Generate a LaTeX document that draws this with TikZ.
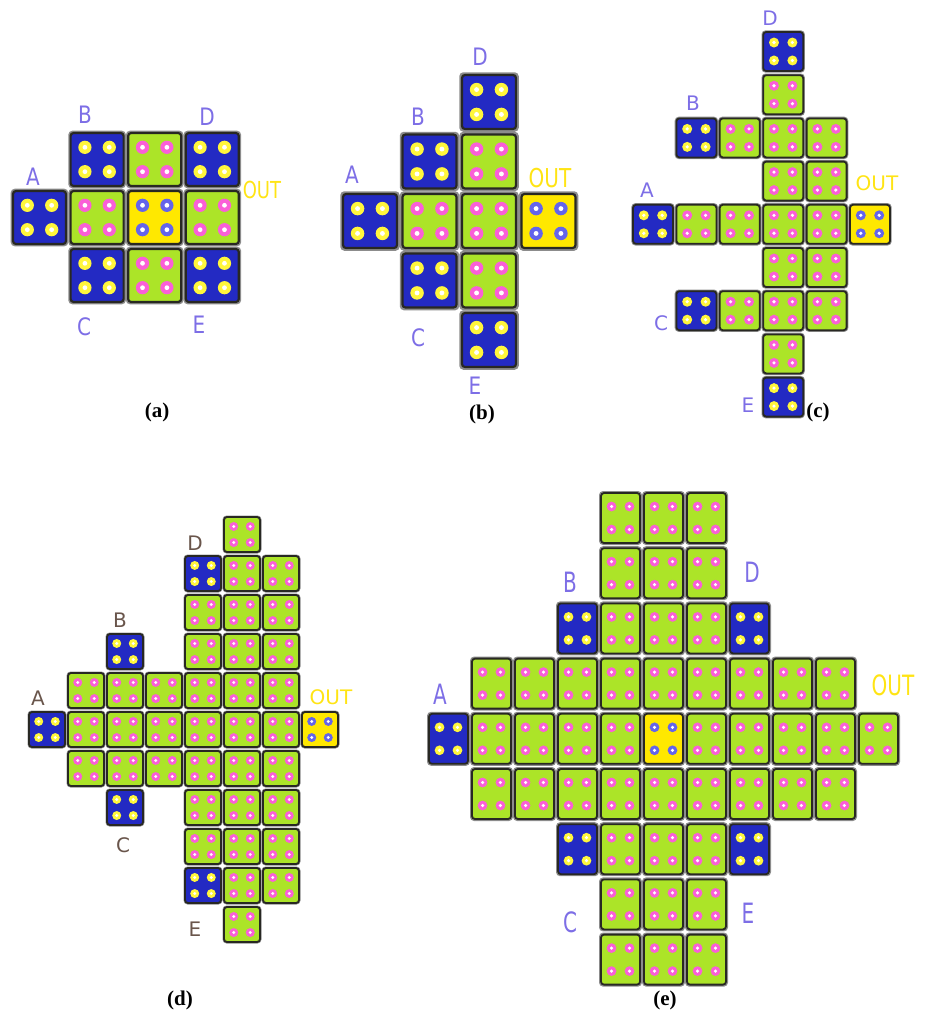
\documentclass[tikz,border=0pt]{standalone}
\usepackage{graphicx}
\usepackage{fontspec}
\setmainfont{Liberation Serif}
\newfontfamily\labelfont{DejaVu Sans}
\usepackage{tikz}
\definecolor{cellBlue}{RGB}{35, 42, 195}
\definecolor{cellGreen}{RGB}{172, 228, 40}
\definecolor{cellYellow}{RGB}{255, 232, 0}
\definecolor{dotBlue}{RGB}{255, 246, 60}
\definecolor{dotGreen}{RGB}{250, 95, 215}
\definecolor{dotYellow}{RGB}{100, 100, 235}
\definecolor{gapGrey}{RGB}{140, 140, 140}
\definecolor{edgeDark}{RGB}{40, 40, 35}
\definecolor{labelBlue}{RGB}{125, 110, 230}
\definecolor{labelBrown}{RGB}{105, 85, 75}
\definecolor{outYellow}{RGB}{255, 228, 20}

% one cell of the array: column, row, kind (Blue/Green/Yellow)
\newcommand{\tile}[3]{%
  \pgfmathsetmacro{\tx}{\ox+#1*\dx}%
  \pgfmathsetmacro{\ty}{\oy+#2*\dy}%
  \pgfmathsetmacro{\hw}{(\dx-\cw)/2}%
  \fill[gapGrey, rounded corners=2pt] (\tx-\hw,\ty-\hw) rectangle ++(\cw+2*\hw,\ch+2*\hw);
  \draw[edgeDark, line width=\bw, fill=cell#3, rounded corners=1.5pt] (\tx,\ty) rectangle ++(\cw,\ch);
  \foreach \u in {0.27,0.73}
    \foreach \v in {0.27,0.73} {
      \fill[dot#3] (\tx+\u*\cw,\ty+\v*\ch) circle (0.125*\cw);
      \fill[white] (\tx+\u*\cw,\ty+\v*\ch) circle (0.045*\cw);
    }%
}

\tikzset{
  lbl/.style={font=\labelfont, text=labelBlue, inner sep=0pt},
  lbldark/.style={lbl, text=labelBrown},
  outlbl/.style={lbl, text=outYellow},
  caption/.style={font=\fontsize{10.5}{12}\selectfont\bfseries, inner sep=0pt}
}

\begin{document}
\begin{tikzpicture}[x=0.5pt, y=-0.5pt]
  \useasboundingbox (0,0) rectangle (926,1024);

  % (a)
  \def\ox{13}\def\oy{133}\def\dx{57.6}\def\dy{58}\def\cw{53}\def\ch{53}\def\bw{1.1pt}
  \foreach \c/\r/\k in {0/1/Blue, 1/0/Blue, 2/0/Green, 3/0/Blue, 1/1/Green, 2/1/Yellow,
      3/1/Green, 1/2/Blue, 2/2/Green, 3/2/Blue}
    \tile{\c}{\r}{\k};
  \begin{scope}[every node/.append style={font=\labelfont\fontsize{12.5}{12}\selectfont}]
    \node[lbl] (aA) at (33,177) {\scalebox{1}[1.2]{A}};
    \node[lbl] (aB) at (85,115) {\scalebox{1}[1.2]{B}};
    \node[lbl] (aD) at (207,117) {\scalebox{1}[1.2]{D}};
    \node[lbl] (aC) at (84,327) {\scalebox{1}[1.2]{C}};
    \node[lbl] (aE) at (199,325) {\scalebox{1}[1.2]{E}};
    \node[outlbl, font=\labelfont\fontsize{9}{9}\selectfont] (aOut) at (262,190) {\scalebox{1}[1.3]{OUT}};
  \end{scope}
  \node[caption] (capA) at (157,412) {(a)};

  % (b)
  \def\ox{343}\def\oy{75}\def\dx{59.5}\def\dy{59.5}\def\cw{54}\def\ch{54}
  \foreach \c/\r/\k in {0/2/Blue, 1/1/Blue, 1/2/Green, 1/3/Blue, 2/0/Blue, 2/1/Green,
      2/2/Green, 2/3/Green, 2/4/Blue, 3/2/Yellow}
    \tile{\c}{\r}{\k};
  \begin{scope}[every node/.append style={font=\labelfont\fontsize{12.5}{12}\selectfont}]
    \node[lbl] (bD) at (480,57) {\scalebox{1}[1.2]{D}};
    \node[lbl] (bB) at (418,117) {\scalebox{1}[1.2]{B}};
    \node[lbl] (bA) at (352,175) {\scalebox{1}[1.2]{A}};
    \node[lbl] (bC) at (418,338) {\scalebox{1}[1.2]{C}};
    \node[lbl] (bE) at (475,386) {\scalebox{1}[1.2]{E}};
    \node[outlbl, font=\labelfont\fontsize{10}{10}\selectfont] (bOut) at (550,178) {\scalebox{1}[1.3]{OUT}};
  \end{scope}
  \node[caption] (capB) at (482,414) {(b)};

  % (c)
  \def\ox{633}\def\oy{32}\def\dx{43.4}\def\dy{43.2}\def\cw{40}\def\ch{39}\def\bw{0.9pt}
  \foreach \c/\r/\k in {0/4/Blue, 1/2/Blue, 1/4/Green, 1/6/Blue, 2/2/Green, 2/4/Green,
      2/6/Green, 3/0/Blue, 3/8/Blue, 5/4/Yellow}
    \tile{\c}{\r}{\k};
  \foreach \r in {1,...,7} \tile{3}{\r}{Green};
  \foreach \r in {2,...,6} \tile{4}{\r}{Green};
  \begin{scope}[every node/.append style={font=\labelfont\fontsize{9}{9}\selectfont}]
    \node[lbl] (cD) at (770,18) {D};
    \node[lbl] (cB) at (693,103) {B};
    \node[lbl] (cA) at (647,190) {A};
    \node[lbl] (cC) at (661,323) {C};
    \node[lbl] (cE) at (748,405) {E};
    \node[outlbl] (cOut) at (877,183) {OUT};
  \end{scope}
  \node[caption] (capC) at (818,412) {(c)};

  % (d)
  \def\ox{29}\def\oy{517}\def\dx{39}\def\dy{39}\def\cw{36}\def\ch{35}
  \foreach \c/\r/\k in {0/5/Blue, 2/3/Blue, 2/7/Blue, 4/1/Blue, 4/9/Blue, 7/5/Yellow}
    \tile{\c}{\r}{\k};
  \foreach \c in {1,2,3} \foreach \r in {4,5,6} \tile{\c}{\r}{Green};
  \foreach \r in {2,...,8} \tile{4}{\r}{Green};
  \foreach \r in {0,...,10} \tile{5}{\r}{Green};
  \foreach \r in {1,...,9} \tile{6}{\r}{Green};
  \begin{scope}[every node/.append style={font=\labelfont\fontsize{8.5}{9}\selectfont}]
    \node[lbldark] (dD) at (195,543) {D};
    \node[lbldark] (dB) at (120,620) {B};
    \node[lbldark] (dA) at (38,698) {A};
    \node[lbldark] (dC) at (123,845) {C};
    \node[lbldark] (dE) at (195,929) {E};
    \node[outlbl] (dOut) at (331,697) {OUT};
  \end{scope}
  \node[caption] (capD) at (180,1000) {(d)};

  % (e)
  \def\ox{429}\def\oy{493}\def\dx{43}\def\dy{55.2}\def\cw{39}\def\ch{50}
  \foreach \c/\r/\k in {3/2/Blue, 7/2/Blue, 3/6/Blue, 7/6/Blue, 0/4/Blue, 5/4/Yellow}
    \tile{\c}{\r}{\k};
  \foreach \r in {0,1,2,6,7,8} \foreach \c in {4,5,6} \tile{\c}{\r}{Green};
  \foreach \r in {3,5} \foreach \c in {1,...,9} \tile{\c}{\r}{Green};
  \foreach \c in {1,2,3,4,6,7,8,9,10} \tile{\c}{4}{Green};
  \begin{scope}[every node/.append style={font=\labelfont\fontsize{10}{10}\selectfont}]
    \node[lbl] (eB) at (570,582) {\scalebox{1}[1.4]{B}};
    \node[lbl] (eD) at (752,572) {\scalebox{1}[1.4]{D}};
    \node[lbl] (eA) at (440,694) {\scalebox{1}[1.4]{A}};
    \node[lbl] (eC) at (570,922) {\scalebox{1}[1.4]{C}};
    \node[lbl] (eE) at (748,913) {\scalebox{1}[1.4]{E}};
    \node[outlbl] (eOut) at (893,685) {\scalebox{1}[1.4]{OUT}};
  \end{scope}
  \node[caption] (capE) at (665,1000) {(e)};
\end{tikzpicture}
\end{document}
